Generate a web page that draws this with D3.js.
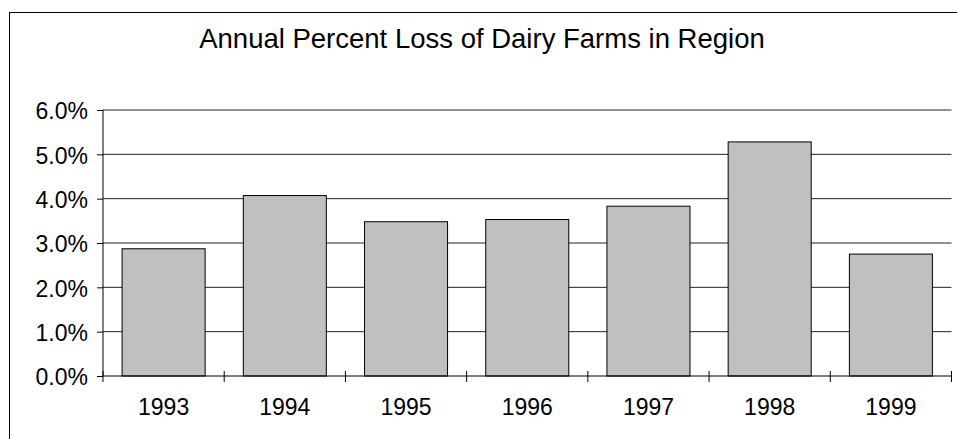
<!DOCTYPE html>
<html>
<head>
<meta charset="utf-8">
<script src="https://cdn.jsdelivr.net/npm/d3@7"></script>
<style>
  body { margin: 0; background: #fff; }
  svg { display: block; font-family: "Liberation Sans", Arial, sans-serif; }
</style>
</head>
<body>
<div id="chart"></div>
<script>
const title = 'Annual Percent Loss of Dairy Farms in Region';
const years = ['1993', '1994', '1995', '1996', '1997', '1998', '1999'];
const lossPct = [0.0287, 0.0407, 0.0348, 0.0353, 0.0383, 0.0528, 0.0275];
const yTicks = [0, 0.01, 0.02, 0.03, 0.04, 0.05, 0.06];

const width = 957, height = 439;
const margin = { top: 110, right: 5.5, bottom: 63, left: 103 };

const svg = d3.select('#chart').append('svg')
    .attr('width', width)
    .attr('height', height);

// outer frame (right / bottom edges fall outside the picture)
svg.append('rect')
    .attr('x', 9.5).attr('y', 12.5)
    .attr('width', width).attr('height', height)
    .attr('fill', 'none').attr('stroke', '#000');

svg.append('text')
    .attr('x', 482).attr('y', 48)
    .attr('text-anchor', 'middle')
    .style('font-size', '27.5px')
    .text(title);

const x = d3.scaleBand()
    .domain(years)
    .range([margin.left, width - margin.right])
    .paddingInner(0.315)
    .paddingOuter(0.1575);

const y = d3.scaleLinear()
    .domain([0, 0.06])
    .range([height - margin.bottom, margin.top]);

// gridlines
svg.append('g')
    .selectAll('line')
    .data(yTicks.slice(1))
    .enter().append('line')
    .attr('x1', margin.left).attr('x2', width - margin.right)
    .attr('y1', d => y(d)).attr('y2', d => y(d))
    .attr('stroke', '#222');

// y axis
const yAxis = svg.append('g')
    .attr('transform', `translate(${margin.left},0)`)
    .call(d3.axisLeft(y).tickValues(yTicks).tickSize(6).tickPadding(9).tickFormat(d3.format('.1%')));
yAxis.select('.domain').attr('d', `M0,${y(0.06)}V${y(0)}`);
yAxis.selectAll('text').style('font-size', '23px').attr('dy', '0.38em').attr('fill', '#000');

// bars
svg.append('g')
    .selectAll('rect')
    .data(lossPct)
    .enter().append('rect')
    .attr('x', (d, i) => x(years[i]))
    .attr('width', x.bandwidth())
    .attr('y', d => y(d))
    .attr('height', d => y(0) - y(d))
    .attr('fill', '#c0c0c0')
    .attr('stroke', '#000');

// x axis: labels centred, tick marks on category boundaries
const xAxis = svg.append('g')
    .attr('transform', `translate(0,${y(0)})`)
    .call(d3.axisBottom(x).tickSize(0).tickPadding(23));
xAxis.select('.domain').remove();
xAxis.selectAll('text').style('font-size', '23px').attr('fill', '#000');

svg.append('line')
    .attr('x1', margin.left).attr('x2', width - margin.right)
    .attr('y1', y(0)).attr('y2', y(0))
    .attr('stroke', '#000');

const bounds = d3.range(years.length + 1).map(i => x.range()[0] + i * x.step());
svg.append('g')
    .selectAll('line')
    .data(bounds)
    .enter().append('line')
    .attr('x1', d => d).attr('x2', d => d)
    .attr('y1', y(0) - 5).attr('y2', y(0) + 6)
    .attr('stroke', '#000');
</script>
</body>
</html>
